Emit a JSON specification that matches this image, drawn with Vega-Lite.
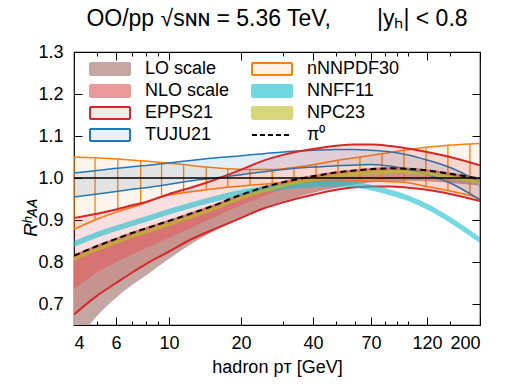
{
 "$schema": "https://vega.github.io/schema/vega-lite/v6.json",
 "width": 406, "height": 273,
 "autosize": "none",
 "padding": {"left": 74, "top": 52, "right": 28, "bottom": 59},
 "background": "white",
 "title": {"text": "OO/pp √sɴɴ = 5.36 TeV,\u2003\u2003|yₕ| < 0.8", "fontSize": 23, "font": "Liberation Sans", "fontWeight": "normal", "anchor": "middle", "offset": -6, "baseline": "alphabetic", "color": "black"},
 "config": {
  "view": {"stroke": "black", "strokeWidth": 1.2},
  "axis": {"labelFont": "Liberation Sans", "titleFont": "Liberation Sans", "labelFontSize": 18, "titleFontSize": 18, "labelColor": "black", "titleColor": "black", "tickColor": "black", "tickWidth": 1, "grid": false, "domain": false, "titleFontWeight": "normal"}
 },
 "datasets": {
  "bands": [
   {"series":"LO scale","pT":4,"lo":0.60,"hi":0.818},{"series":"LO scale","pT":5,"lo":0.672,"hi":0.84},{"series":"LO scale","pT":6,"lo":0.715,"hi":0.857},{"series":"LO scale","pT":7,"lo":0.745,"hi":0.871},{"series":"LO scale","pT":8,"lo":0.768,"hi":0.882},{"series":"LO scale","pT":10,"lo":0.808,"hi":0.9},{"series":"LO scale","pT":12,"lo":0.838,"hi":0.915},{"series":"LO scale","pT":15,"lo":0.87,"hi":0.934},{"series":"LO scale","pT":20,"lo":0.903,"hi":0.962},{"series":"LO scale","pT":25,"lo":0.928,"hi":0.98},{"series":"LO scale","pT":30,"lo":0.944,"hi":0.992},{"series":"LO scale","pT":40,"lo":0.965,"hi":1.006},{"series":"LO scale","pT":50,"lo":0.977,"hi":1.015},{"series":"LO scale","pT":60,"lo":0.985,"hi":1.02},{"series":"LO scale","pT":70,"lo":0.989,"hi":1.023},{"series":"LO scale","pT":85,"lo":0.992,"hi":1.025},{"series":"LO scale","pT":100,"lo":0.993,"hi":1.024},{"series":"LO scale","pT":120,"lo":0.992,"hi":1.02},{"series":"LO scale","pT":150,"lo":0.988,"hi":1.012},{"series":"LO scale","pT":200,"lo":0.982,"hi":1.0},
   {"series":"NLO scale","pT":4,"lo":0.735,"hi":0.818},{"series":"NLO scale","pT":5,"lo":0.775,"hi":0.841},{"series":"NLO scale","pT":6,"lo":0.8,"hi":0.858},{"series":"NLO scale","pT":7,"lo":0.818,"hi":0.872},{"series":"NLO scale","pT":8,"lo":0.833,"hi":0.883},{"series":"NLO scale","pT":10,"lo":0.858,"hi":0.901},{"series":"NLO scale","pT":12,"lo":0.878,"hi":0.916},{"series":"NLO scale","pT":15,"lo":0.903,"hi":0.935},{"series":"NLO scale","pT":20,"lo":0.935,"hi":0.963},{"series":"NLO scale","pT":25,"lo":0.957,"hi":0.981},{"series":"NLO scale","pT":30,"lo":0.973,"hi":0.993},{"series":"NLO scale","pT":40,"lo":0.993,"hi":1.007},{"series":"NLO scale","pT":50,"lo":1.004,"hi":1.016},{"series":"NLO scale","pT":60,"lo":1.011,"hi":1.021},{"series":"NLO scale","pT":70,"lo":1.015,"hi":1.024},{"series":"NLO scale","pT":85,"lo":1.018,"hi":1.026},{"series":"NLO scale","pT":100,"lo":1.017,"hi":1.025},{"series":"NLO scale","pT":120,"lo":1.013,"hi":1.021},{"series":"NLO scale","pT":150,"lo":1.005,"hi":1.013},{"series":"NLO scale","pT":200,"lo":0.993,"hi":1.001},
   {"series":"NPC23","pT":4,"lo":0.803,"hi":0.811},{"series":"NPC23","pT":5,"lo":0.826,"hi":0.834},{"series":"NPC23","pT":6,"lo":0.843,"hi":0.851},{"series":"NPC23","pT":7,"lo":0.857,"hi":0.865},{"series":"NPC23","pT":8,"lo":0.868,"hi":0.876},{"series":"NPC23","pT":10,"lo":0.886,"hi":0.894},{"series":"NPC23","pT":12,"lo":0.901,"hi":0.909},{"series":"NPC23","pT":15,"lo":0.92,"hi":0.928},{"series":"NPC23","pT":20,"lo":0.948,"hi":0.956},{"series":"NPC23","pT":25,"lo":0.966,"hi":0.974},{"series":"NPC23","pT":30,"lo":0.978,"hi":0.986},{"series":"NPC23","pT":40,"lo":0.992,"hi":1.0},{"series":"NPC23","pT":50,"lo":1.001,"hi":1.009},{"series":"NPC23","pT":60,"lo":1.006,"hi":1.014},{"series":"NPC23","pT":70,"lo":1.009,"hi":1.017},{"series":"NPC23","pT":85,"lo":1.011,"hi":1.019},{"series":"NPC23","pT":100,"lo":1.01,"hi":1.018},{"series":"NPC23","pT":120,"lo":1.006,"hi":1.014},{"series":"NPC23","pT":150,"lo":0.998,"hi":1.006},{"series":"NPC23","pT":200,"lo":0.986,"hi":0.994},
   {"series":"NNFF11","pT":4,"lo":0.836,"hi":0.85},{"series":"NNFF11","pT":5,"lo":0.858,"hi":0.872},{"series":"NNFF11","pT":6,"lo":0.873,"hi":0.887},{"series":"NNFF11","pT":7,"lo":0.885,"hi":0.899},{"series":"NNFF11","pT":8,"lo":0.895,"hi":0.909},{"series":"NNFF11","pT":10,"lo":0.913,"hi":0.927},{"series":"NNFF11","pT":12,"lo":0.926,"hi":0.94},{"series":"NNFF11","pT":15,"lo":0.941,"hi":0.955},{"series":"NNFF11","pT":20,"lo":0.958,"hi":0.972},{"series":"NNFF11","pT":25,"lo":0.967,"hi":0.981},{"series":"NNFF11","pT":30,"lo":0.972,"hi":0.986},{"series":"NNFF11","pT":40,"lo":0.978,"hi":0.992},{"series":"NNFF11","pT":50,"lo":0.98,"hi":0.994},{"series":"NNFF11","pT":60,"lo":0.977,"hi":0.991},{"series":"NNFF11","pT":70,"lo":0.97,"hi":0.984},{"series":"NNFF11","pT":85,"lo":0.958,"hi":0.972},{"series":"NNFF11","pT":100,"lo":0.945,"hi":0.959},{"series":"NNFF11","pT":120,"lo":0.925,"hi":0.939},{"series":"NNFF11","pT":150,"lo":0.893,"hi":0.907},{"series":"NNFF11","pT":200,"lo":0.845,"hi":0.859},
   {"series":"EPPS21","pT":4,"lo":0.675,"hi":0.905},{"series":"EPPS21","pT":5,"lo":0.72,"hi":0.915},{"series":"EPPS21","pT":6,"lo":0.75,"hi":0.925},{"series":"EPPS21","pT":7,"lo":0.775,"hi":0.935},{"series":"EPPS21","pT":8,"lo":0.795,"hi":0.943},{"series":"EPPS21","pT":10,"lo":0.825,"hi":0.962},{"series":"EPPS21","pT":12,"lo":0.85,"hi":0.975},{"series":"EPPS21","pT":15,"lo":0.875,"hi":0.993},{"series":"EPPS21","pT":20,"lo":0.905,"hi":1.02},{"series":"EPPS21","pT":25,"lo":0.928,"hi":1.042},{"series":"EPPS21","pT":30,"lo":0.942,"hi":1.055},{"series":"EPPS21","pT":40,"lo":0.96,"hi":1.069},{"series":"EPPS21","pT":50,"lo":0.972,"hi":1.077},{"series":"EPPS21","pT":60,"lo":0.978,"hi":1.08},{"series":"EPPS21","pT":70,"lo":0.98,"hi":1.08},{"series":"EPPS21","pT":85,"lo":0.98,"hi":1.076},{"series":"EPPS21","pT":100,"lo":0.977,"hi":1.07},{"series":"EPPS21","pT":120,"lo":0.972,"hi":1.062},{"series":"EPPS21","pT":150,"lo":0.962,"hi":1.05},{"series":"EPPS21","pT":200,"lo":0.945,"hi":1.03},
   {"series":"TUJU21","pT":4,"lo":0.955,"hi":1.012},{"series":"TUJU21","pT":5,"lo":0.962,"hi":1.018},{"series":"TUJU21","pT":6,"lo":0.968,"hi":1.023},{"series":"TUJU21","pT":7,"lo":0.973,"hi":1.027},{"series":"TUJU21","pT":8,"lo":0.977,"hi":1.03},{"series":"TUJU21","pT":10,"lo":0.985,"hi":1.036},{"series":"TUJU21","pT":12,"lo":0.992,"hi":1.041},{"series":"TUJU21","pT":15,"lo":0.999,"hi":1.047},{"series":"TUJU21","pT":20,"lo":1.008,"hi":1.053},{"series":"TUJU21","pT":25,"lo":1.015,"hi":1.058},{"series":"TUJU21","pT":30,"lo":1.02,"hi":1.062},{"series":"TUJU21","pT":40,"lo":1.026,"hi":1.066},{"series":"TUJU21","pT":50,"lo":1.029,"hi":1.068},{"series":"TUJU21","pT":60,"lo":1.031,"hi":1.068},{"series":"TUJU21","pT":70,"lo":1.032,"hi":1.066},{"series":"TUJU21","pT":85,"lo":1.028,"hi":1.062},{"series":"TUJU21","pT":100,"lo":1.02,"hi":1.055},{"series":"TUJU21","pT":120,"lo":1.008,"hi":1.043},{"series":"TUJU21","pT":150,"lo":0.988,"hi":1.025},{"series":"TUJU21","pT":200,"lo":0.948,"hi":0.99},
   {"series":"nNNPDF30","pT":4,"lo":0.878,"hi":1.05},{"series":"nNNPDF30","pT":4.9,"lo":0.9,"hi":1.048},{"series":"nNNPDF30","pT":6.1,"lo":0.92,"hi":1.045},{"series":"nNNPDF30","pT":7.6,"lo":0.937,"hi":1.041},{"series":"nNNPDF30","pT":9.3,"lo":0.955,"hi":1.037},{"series":"nNNPDF30","pT":11.5,"lo":0.965,"hi":1.032},{"series":"nNNPDF30","pT":14.3,"lo":0.972,"hi":1.026},{"series":"nNNPDF30","pT":17.6,"lo":0.978,"hi":1.022},{"series":"nNNPDF30","pT":21.8,"lo":0.983,"hi":1.02},{"series":"nNNPDF30","pT":27,"lo":0.987,"hi":1.02},{"series":"nNNPDF30","pT":33.3,"lo":0.99,"hi":1.025},{"series":"nNNPDF30","pT":41.2,"lo":0.992,"hi":1.033},{"series":"nNNPDF30","pT":50.9,"lo":0.993,"hi":1.042},{"series":"nNNPDF30","pT":62.9,"lo":0.993,"hi":1.05},{"series":"nNNPDF30","pT":77.8,"lo":0.992,"hi":1.058},{"series":"nNNPDF30","pT":96.1,"lo":0.99,"hi":1.066},{"series":"nNNPDF30","pT":118.8,"lo":0.98,"hi":1.073},{"series":"nNNPDF30","pT":146.8,"lo":0.97,"hi":1.078},{"series":"nNNPDF30","pT":181.5,"lo":0.958,"hi":1.081},{"series":"nNNPDF30","pT":200,"lo":0.95,"hi":1.082}
  ],
  "pion": [
   {"series":"π⁰","pT":4,"v":0.815},{"series":"π⁰","pT":5,"v":0.838},{"series":"π⁰","pT":6,"v":0.855},{"series":"π⁰","pT":7,"v":0.869},{"series":"π⁰","pT":8,"v":0.88},{"series":"π⁰","pT":10,"v":0.898},{"series":"π⁰","pT":12,"v":0.913},{"series":"π⁰","pT":15,"v":0.932},{"series":"π⁰","pT":20,"v":0.96},{"series":"π⁰","pT":25,"v":0.978},{"series":"π⁰","pT":30,"v":0.99},{"series":"π⁰","pT":40,"v":1.004},{"series":"π⁰","pT":50,"v":1.013},{"series":"π⁰","pT":60,"v":1.018},{"series":"π⁰","pT":70,"v":1.021},{"series":"π⁰","pT":85,"v":1.023},{"series":"π⁰","pT":100,"v":1.022},{"series":"π⁰","pT":120,"v":1.018},{"series":"π⁰","pT":150,"v":1.01},{"series":"π⁰","pT":200,"v":0.998}
  ]
 },
 "layer": [
  {
   "data": {"name": "bands"},
   "transform": [{"filter": "datum.series === 'LO scale'"}],
   "mark": {"type": "area", "clip": true, "interpolate": "monotone"},
   "encoding": {
    "x": {"field": "pT", "type": "quantitative", "scale": {"type": "log", "domain": [4, 200], "nice": false},
          "axis": {"orient": "bottom", "values": [4, 6, 10, 20, 40, 70, 120, 200], "format": "d", "tickSize": -8, "labelPadding": 17, "title": "hadron pᴛ [GeV]", "titlePadding": 6}},
    "y": {"field": "lo", "type": "quantitative", "scale": {"domain": [0.65, 1.3], "nice": false, "zero": false},
          "axis": {"orient": "left", "values": [0.7, 0.8, 0.9, 1.0, 1.1, 1.2, 1.3], "format": ".1f", "tickSize": -8, "labelPadding": 19, "title": "Rʰᴀᴀ", "titleFontSize": 19, "titleFontStyle": "italic", "titleAngle": -90, "titleBaseline": "middle", "titleX": -44, "titleY": 165}},
    "y2": {"field": "hi"},
    "color": {"field": "series", "type": "nominal",
      "scale": {"domain": ["LO scale", "NLO scale", "EPPS21", "TUJU21", "nNNPDF30", "NNFF11", "NPC23", "π⁰"],
                "range": ["#c4a6a2", "#e07070", "#d62728", "#1f77b4", "#ff7f0e", "#17becf", "#bcbd22", "#000000"]},
      "legend": {"orient": "none", "legendX": 25, "legendY": 6, "columns": 2, "columnPadding": 18, "rowPadding": 1, "symbolSize": 400, "labelOffset": 24, "labelFontSize": 18, "labelFont": "Liberation Sans", "labelColor": "black", "title": null, "padding": 0, "labelLimit": 200,
        "encode": {"symbols": {"update": {
          "shape": {"signal": "datum.value === 'π⁰' ? 'M-2,0H2' : 'M-2,-0.6H2V0.6H-2Z'"},
          "strokeWidth": {"value": 2},
          "strokeDash": {"signal": "datum.value === 'π⁰' ? [5,3] : [1,0]"},
          "fillOpacity": {"signal": "indexof(['EPPS21','TUJU21','nNNPDF30','π⁰'], datum.value) >= 0 ? 0.1 : 1"},
          "strokeOpacity": {"value": 1},
          "opacity": {"signal": "datum.value === 'NLO scale' ? 0.7 : (datum.value === 'NNFF11' || datum.value === 'NPC23') ? 0.6 : 1"}
        }}}}
    }
   }
  },
  {
   "data": {"name": "bands"},
   "transform": [{"filter": "datum.series === 'NLO scale'"}],
   "mark": {"type": "area", "clip": true, "opacity": 0.7, "interpolate": "monotone"},
   "encoding": {
    "x": {"field": "pT", "type": "quantitative", "scale": {"type": "log", "domain": [4, 200], "nice": false},
          "axis": {"orient": "bottom", "values": [5, 7, 8, 9, 30, 50, 60, 80, 90, 100, 150], "tickSize": -4, "labels": false, "title": null}},
    "y": {"field": "lo", "type": "quantitative", "scale": {"domain": [0.65, 1.3], "nice": false, "zero": false},
          "axis": {"orient": "right", "values": [0.7, 0.8, 0.9, 1.0, 1.1, 1.2, 1.3], "tickSize": -8, "labels": false, "title": null}},
    "y2": {"field": "hi"},
    "color": {"field": "series", "type": "nominal"}
   }
  },
  {
   "data": {"name": "bands"},
   "transform": [{"filter": "datum.series === 'nNNPDF30'"}],
   "mark": {"type": "area", "clip": true, "opacity": 0.08, "interpolate": "monotone"},
   "encoding": {
    "x": {"field": "pT", "type": "quantitative", "scale": {"type": "log", "domain": [4, 200], "nice": false},
          "axis": {"orient": "top", "values": [4, 6, 10, 20, 40, 70, 120, 200], "tickSize": -8, "labels": false, "title": null}},
    "y": {"field": "lo", "type": "quantitative", "scale": {"domain": [0.65, 1.3], "nice": false, "zero": false}, "axis": null},
    "y2": {"field": "hi"},
    "color": {"field": "series", "type": "nominal"}
   }
  },
  {
   "data": {"name": "bands"},
   "transform": [{"filter": "datum.series === 'nNNPDF30'"}],
   "mark": {"type": "rule", "clip": true, "strokeWidth": 1.3},
   "encoding": {
    "x": {"field": "pT", "type": "quantitative", "scale": {"type": "log", "domain": [4, 200], "nice": false},
          "axis": {"orient": "top", "values": [5, 7, 8, 9, 30, 50, 60, 80, 90, 100, 150], "tickSize": -4, "labels": false, "title": null}},
    "y": {"field": "lo", "type": "quantitative", "scale": {"domain": [0.65, 1.3], "nice": false, "zero": false}, "axis": null},
    "y2": {"field": "hi"},
    "color": {"field": "series", "type": "nominal"}
   }
  },
  {
   "data": {"name": "bands"},
   "transform": [{"filter": "datum.series === 'nNNPDF30'"}, {"fold": ["lo", "hi"], "as": ["bound", "val"]}],
   "mark": {"type": "line", "clip": true, "strokeWidth": 1.5, "interpolate": "monotone"},
   "encoding": {
    "x": {"field": "pT", "type": "quantitative", "scale": {"type": "log", "domain": [4, 200], "nice": false}, "axis": null},
    "y": {"field": "val", "type": "quantitative", "scale": {"domain": [0.65, 1.3], "nice": false, "zero": false}, "axis": null},
    "detail": {"field": "bound"},
    "color": {"field": "series", "type": "nominal"}
   }
  },
  {
   "data": {"name": "bands"},
   "transform": [{"filter": "datum.series === 'TUJU21'"}],
   "mark": {"type": "area", "clip": true, "opacity": 0.13, "interpolate": "monotone"},
   "encoding": {
    "x": {"field": "pT", "type": "quantitative", "scale": {"type": "log", "domain": [4, 200], "nice": false}, "axis": null},
    "y": {"field": "lo", "type": "quantitative", "scale": {"domain": [0.65, 1.3], "nice": false, "zero": false}, "axis": null},
    "y2": {"field": "hi"},
    "color": {"field": "series", "type": "nominal"}
   }
  },
  {
   "data": {"name": "bands"},
   "transform": [{"filter": "datum.series === 'TUJU21'"}, {"fold": ["lo", "hi"], "as": ["bound", "val"]}],
   "mark": {"type": "line", "clip": true, "strokeWidth": 1.5, "interpolate": "monotone"},
   "encoding": {
    "x": {"field": "pT", "type": "quantitative", "scale": {"type": "log", "domain": [4, 200], "nice": false}, "axis": null},
    "y": {"field": "val", "type": "quantitative", "scale": {"domain": [0.65, 1.3], "nice": false, "zero": false}, "axis": null},
    "detail": {"field": "bound"},
    "color": {"field": "series", "type": "nominal"}
   }
  },
  {
   "data": {"name": "bands"},
   "transform": [{"filter": "datum.series === 'EPPS21'"}],
   "mark": {"type": "area", "clip": true, "opacity": 0.15, "interpolate": "monotone"},
   "encoding": {
    "x": {"field": "pT", "type": "quantitative", "scale": {"type": "log", "domain": [4, 200], "nice": false}, "axis": null},
    "y": {"field": "lo", "type": "quantitative", "scale": {"domain": [0.65, 1.3], "nice": false, "zero": false}, "axis": null},
    "y2": {"field": "hi"},
    "color": {"field": "series", "type": "nominal"}
   }
  },
  {
   "data": {"name": "bands"},
   "transform": [{"filter": "datum.series === 'EPPS21'"}, {"fold": ["lo", "hi"], "as": ["bound", "val"]}],
   "mark": {"type": "line", "clip": true, "strokeWidth": 2, "interpolate": "monotone"},
   "encoding": {
    "x": {"field": "pT", "type": "quantitative", "scale": {"type": "log", "domain": [4, 200], "nice": false}, "axis": null},
    "y": {"field": "val", "type": "quantitative", "scale": {"domain": [0.65, 1.3], "nice": false, "zero": false}, "axis": null},
    "detail": {"field": "bound"},
    "color": {"field": "series", "type": "nominal"}
   }
  },
  {
   "data": {"name": "bands"},
   "transform": [{"filter": "datum.series === 'NNFF11'"}],
   "mark": {"type": "area", "clip": true, "opacity": 0.6, "interpolate": "monotone"},
   "encoding": {
    "x": {"field": "pT", "type": "quantitative", "scale": {"type": "log", "domain": [4, 200], "nice": false}, "axis": null},
    "y": {"field": "lo", "type": "quantitative", "scale": {"domain": [0.65, 1.3], "nice": false, "zero": false}, "axis": null},
    "y2": {"field": "hi"},
    "color": {"field": "series", "type": "nominal"}
   }
  },
  {
   "data": {"name": "bands"},
   "transform": [{"filter": "datum.series === 'NPC23'"}],
   "mark": {"type": "area", "clip": true, "opacity": 0.7, "interpolate": "monotone"},
   "encoding": {
    "x": {"field": "pT", "type": "quantitative", "scale": {"type": "log", "domain": [4, 200], "nice": false}, "axis": null},
    "y": {"field": "lo", "type": "quantitative", "scale": {"domain": [0.65, 1.3], "nice": false, "zero": false}, "axis": null},
    "y2": {"field": "hi"},
    "color": {"field": "series", "type": "nominal"}
   }
  },
  {
   "data": {"values": [{}]},
   "mark": {"type": "rule", "color": "black", "strokeWidth": 1.6},
   "encoding": {
    "y": {"datum": 1, "type": "quantitative", "scale": {"domain": [0.65, 1.3], "nice": false, "zero": false}, "axis": null}
   }
  },
  {
   "data": {"name": "pion"},
   "mark": {"type": "line", "clip": true, "strokeWidth": 2, "strokeDash": [6, 4], "interpolate": "monotone"},
   "encoding": {
    "x": {"field": "pT", "type": "quantitative", "scale": {"type": "log", "domain": [4, 200], "nice": false}, "axis": null},
    "y": {"field": "v", "type": "quantitative", "scale": {"domain": [0.65, 1.3], "nice": false, "zero": false}, "axis": null},
    "color": {"field": "series", "type": "nominal"}
   }
  }
 ],
 "resolve": {"axis": {"x": "independent", "y": "independent"}}
}
